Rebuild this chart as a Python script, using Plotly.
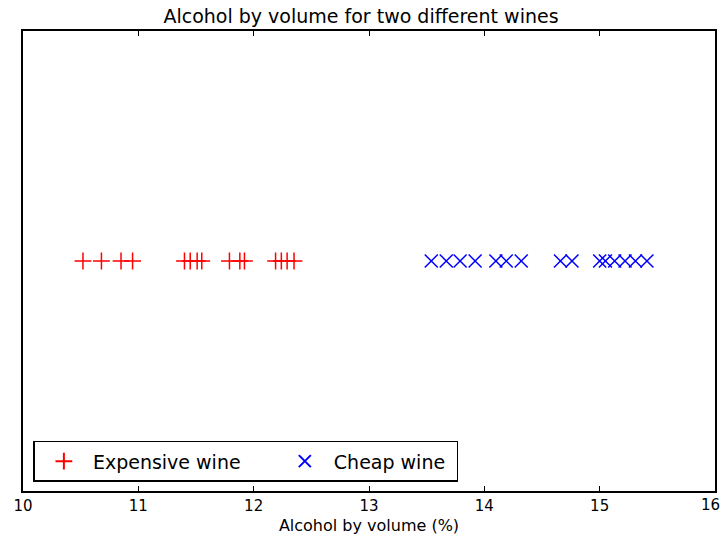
import plotly.graph_objects as go

expensive_abv = [10.52, 10.68, 10.85, 10.95, 11.40, 11.45, 11.51, 11.55,
                 11.79, 11.88, 11.92, 12.19, 12.24, 12.29, 12.35]
cheap_abv = [13.54, 13.67, 13.79, 13.92, 14.10, 14.19, 14.32, 14.66,
             14.76, 15.00, 15.05, 15.13, 15.22, 15.31, 15.41]
x_ticks = [10, 11, 12, 13, 14, 15, 16]

fig = go.Figure()
fig.add_trace(go.Scatter(
    x=expensive_abv, y=[0] * len(expensive_abv), mode="markers",
    name="Expensive wine" + "\u00a0" * 5,
    marker=dict(symbol="cross-thin", size=12, color="red",
                line=dict(color="red", width=1.5)),
))
fig.add_trace(go.Scatter(
    x=cheap_abv, y=[0] * len(cheap_abv), mode="markers",
    name="Cheap wine" + "\u00a0",
    marker=dict(symbol="x-thin", size=13, color="blue",
                line=dict(color="blue", width=1.5)),
))

font = "DejaVu Sans, sans-serif"
fig.update_layout(
    width=722, height=539,
    margin=dict(l=23, r=5, t=31, b=48),
    paper_bgcolor="white", plot_bgcolor="white",
    font=dict(family=font, size=15, color="black"),
    title=dict(text="Alcohol by volume for two different wines",
               x=0.5, xanchor="center", y=1, yref="paper",
               yanchor="bottom", pad=dict(b=8),
               font=dict(family=font, size=19, color="black")),
    xaxis=dict(range=[10, 16], tickvals=x_ticks,
               ticktext=[str(v) if v != 16 else "" for v in x_ticks],
               tickfont=dict(size=15),
               showgrid=False, zeroline=False, showline=True,
               linecolor="black", linewidth=1.5, mirror="allticks",
               ticks="inside", ticklen=5, tickcolor="black",
               title=dict(text="Alcohol by volume (%)", standoff=6,
                          font=dict(size=16))),
    yaxis=dict(range=[-1, 1], showticklabels=False, ticks="",
               showgrid=False, zeroline=False, showline=True,
               linecolor="black", linewidth=1.5, mirror=True),
    showlegend=True,
    legend=dict(orientation="h", x=0.015, y=0.02, xanchor="left",
                yanchor="bottom", bordercolor="black", borderwidth=1.5,
                bgcolor="white", font=dict(size=19),
                itemwidth=48, itemsizing="constant"),
    annotations=[dict(text=str(x_ticks[-1]), x=x_ticks[-1], xref="x",
                      y=0, yref="paper", yanchor="top", yshift=-3,
                      xshift=-5, showarrow=False, font=dict(size=15))],
)

fig.write_html("out.html")
